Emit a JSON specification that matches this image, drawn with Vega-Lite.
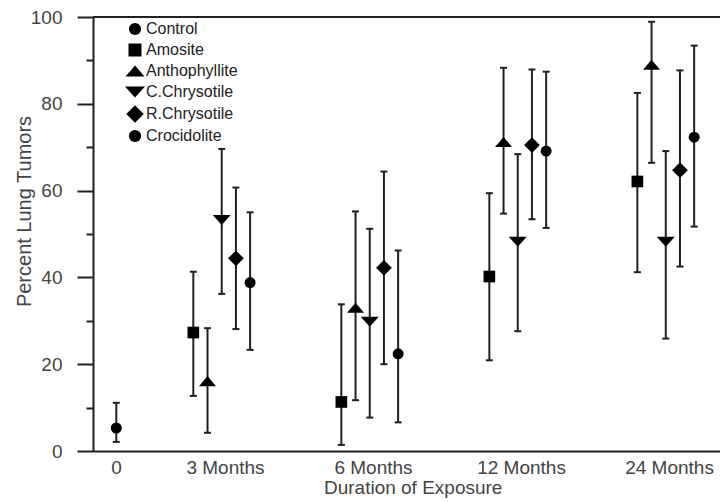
{
  "$schema": "https://vega.github.io/schema/vega-lite/v6.json",
  "width": 627,
  "height": 434,
  "autosize": "none",
  "padding": {"left": 93, "top": 17, "right": 0, "bottom": 51},
  "background": "white",
  "config": {"view": {"stroke": null}, "font": "Liberation Sans"},
  "data": {"values": [
    {"duration": "0", "fiber": "Control", "pct": 5.3, "lo": 2.1, "hi": 11.1},
    {"duration": "3 Months", "fiber": "Amosite", "pct": 27.3, "lo": 12.7, "hi": 41.3},
    {"duration": "3 Months", "fiber": "Anthophyllite", "pct": 16.1, "lo": 4.2, "hi": 28.3},
    {"duration": "3 Months", "fiber": "C.Chrysotile", "pct": 53.2, "lo": 36.2, "hi": 69.6},
    {"duration": "3 Months", "fiber": "R.Chrysotile", "pct": 44.4, "lo": 28.1, "hi": 60.7},
    {"duration": "3 Months", "fiber": "Crocidolite", "pct": 38.8, "lo": 23.3, "hi": 55.0},
    {"duration": "6 Months", "fiber": "Amosite", "pct": 11.3, "lo": 1.4, "hi": 33.8},
    {"duration": "6 Months", "fiber": "Anthophyllite", "pct": 33.0, "lo": 11.7, "hi": 55.2},
    {"duration": "6 Months", "fiber": "C.Chrysotile", "pct": 29.8, "lo": 7.7, "hi": 51.2},
    {"duration": "6 Months", "fiber": "R.Chrysotile", "pct": 42.2, "lo": 20.0, "hi": 64.4},
    {"duration": "6 Months", "fiber": "Crocidolite", "pct": 22.4, "lo": 6.6, "hi": 46.2},
    {"duration": "12 Months", "fiber": "Amosite", "pct": 40.2, "lo": 20.9, "hi": 59.4},
    {"duration": "12 Months", "fiber": "Anthophyllite", "pct": 71.2, "lo": 54.7, "hi": 88.3},
    {"duration": "12 Months", "fiber": "C.Chrysotile", "pct": 48.2, "lo": 27.6, "hi": 68.4},
    {"duration": "12 Months", "fiber": "R.Chrysotile", "pct": 70.5, "lo": 53.4, "hi": 87.9},
    {"duration": "12 Months", "fiber": "Crocidolite", "pct": 69.1, "lo": 51.4, "hi": 87.4},
    {"duration": "24 Months", "fiber": "Amosite", "pct": 62.1, "lo": 41.2, "hi": 82.5},
    {"duration": "24 Months", "fiber": "Anthophyllite", "pct": 89.0, "lo": 66.4, "hi": 98.9},
    {"duration": "24 Months", "fiber": "C.Chrysotile", "pct": 48.2, "lo": 25.9, "hi": 69.1},
    {"duration": "24 Months", "fiber": "R.Chrysotile", "pct": 64.7, "lo": 42.5, "hi": 87.7},
    {"duration": "24 Months", "fiber": "Crocidolite", "pct": 72.3, "lo": 51.7, "hi": 93.4}
  ]},
  "layer": [
    {
      "mark": {"type": "rule", "color": "#231f20", "strokeWidth": 2},
      "encoding": {
        "y": {"datum": 100, "type": "quantitative", "scale": {"domain": [0, 100], "nice": false}, "title": "Percent Lung Tumors"}
      }
    },
    {
      "mark": {"type": "rule", "color": "#231f20", "strokeWidth": 2},
      "encoding": {
        "x": {"field": "duration", "type": "nominal", "title": "Duration of Exposure",
          "scale": {"domain": ["0", "3 Months", "6 Months", "12 Months", "24 Months"], "paddingInner": 0.764, "paddingOuter": 0},
          "axis": {"labelAngle": 0, "ticks": false, "grid": false, "domainColor": "#231f20", "domainWidth": 2, "labelFontSize": 19, "labelColor": "#444444", "labelBaseline": "alphabetic", "labelPadding": 22, "labelOffset": {"condition": {"test": "datum.value == '0'", "value": 6}, "value": -33}, "labelOverlap": false, "titleFontSize": 19, "titleFontWeight": "normal", "titleColor": "#444444", "titleX": 319.7, "titleY": 42, "titleBaseline": "alphabetic"}},
        "xOffset": {"field": "fiber", "type": "nominal", "scale": {"domain": ["Amosite", "Anthophyllite", "C.Chrysotile", "R.Chrysotile", "Crocidolite", "Control"], "range": [-54.8, 30.4], "paddingInner": 0, "paddingOuter": 0}},
        "y": {"field": "lo", "type": "quantitative", "scale": {"domain": [0, 100], "nice": false}, "title": "Percent Lung Tumors",
          "axis": {"values": [0, 5, 10, 15, 20, 25, 30, 35, 40, 45, 50, 55, 60, 65, 70, 75, 80, 85, 90, 95, 100], "labelExpr": "datum.value % 20 == 0 ? datum.label : ''", "tickSize": {"condition": {"test": "datum.value % 20 == 0", "value": 16}, "value": 7}, "tickWidth": 2, "tickColor": "#231f20", "domainColor": "#231f20", "domainWidth": 2, "grid": false, "labelFontSize": 19, "labelColor": "#444444", "labelPadding": 15, "titleFontSize": 20, "titleFontWeight": "normal", "titleColor": "#444444", "titleX": -63, "titleY": 194, "titleBaseline": "alphabetic"}},
        "y2": {"field": "hi"}
      }
    },
    {
      "mark": {"type": "tick", "orient": "horizontal", "color": "#231f20", "size": 7, "thickness": 2, "opacity": 1},
      "encoding": {
        "x": {"field": "duration", "type": "nominal"},
        "xOffset": {"field": "fiber", "type": "nominal"},
        "y": {"field": "hi", "type": "quantitative", "title": "Percent Lung Tumors"}
      }
    },
    {
      "mark": {"type": "tick", "orient": "horizontal", "color": "#231f20", "size": 7, "thickness": 2, "opacity": 1},
      "encoding": {
        "x": {"field": "duration", "type": "nominal"},
        "xOffset": {"field": "fiber", "type": "nominal"},
        "y": {"field": "lo", "type": "quantitative", "title": "Percent Lung Tumors"}
      }
    },
    {
      "mark": {"type": "point", "filled": true, "color": "black", "opacity": 1, "size": 121},
      "encoding": {
        "x": {"field": "duration", "type": "nominal"},
        "xOffset": {"field": "fiber", "type": "nominal"},
        "y": {"field": "pct", "type": "quantitative", "title": "Percent Lung Tumors"},
        "shape": {"field": "fiber", "type": "nominal",
          "scale": {"domain": ["Control", "Amosite", "Anthophyllite", "C.Chrysotile", "R.Chrysotile", "Crocidolite"],
            "range": ["circle", "M-1.06,-1.06L1.06,-1.06L1.06,1.06L-1.06,1.06Z", "M0,-0.91L1.55,0.91L-1.55,0.91Z", "M-1.64,-0.91L1.64,-0.91L0,0.91Z", "M-1.43,0L0,-1.43L1.43,0L0,1.43Z", "circle"]},
          "legend": {"title": null, "orient": "none", "legendX": 34, "legendY": 4, "symbolSize": 150, "symbolFillColor": "black", "symbolStrokeWidth": 0, "symbolOpacity": 1, "labelFontSize": 16, "labelColor": "#222222", "rowPadding": 5, "labelOffset": 3, "padding": 0}}
      }
    }
  ]
}
